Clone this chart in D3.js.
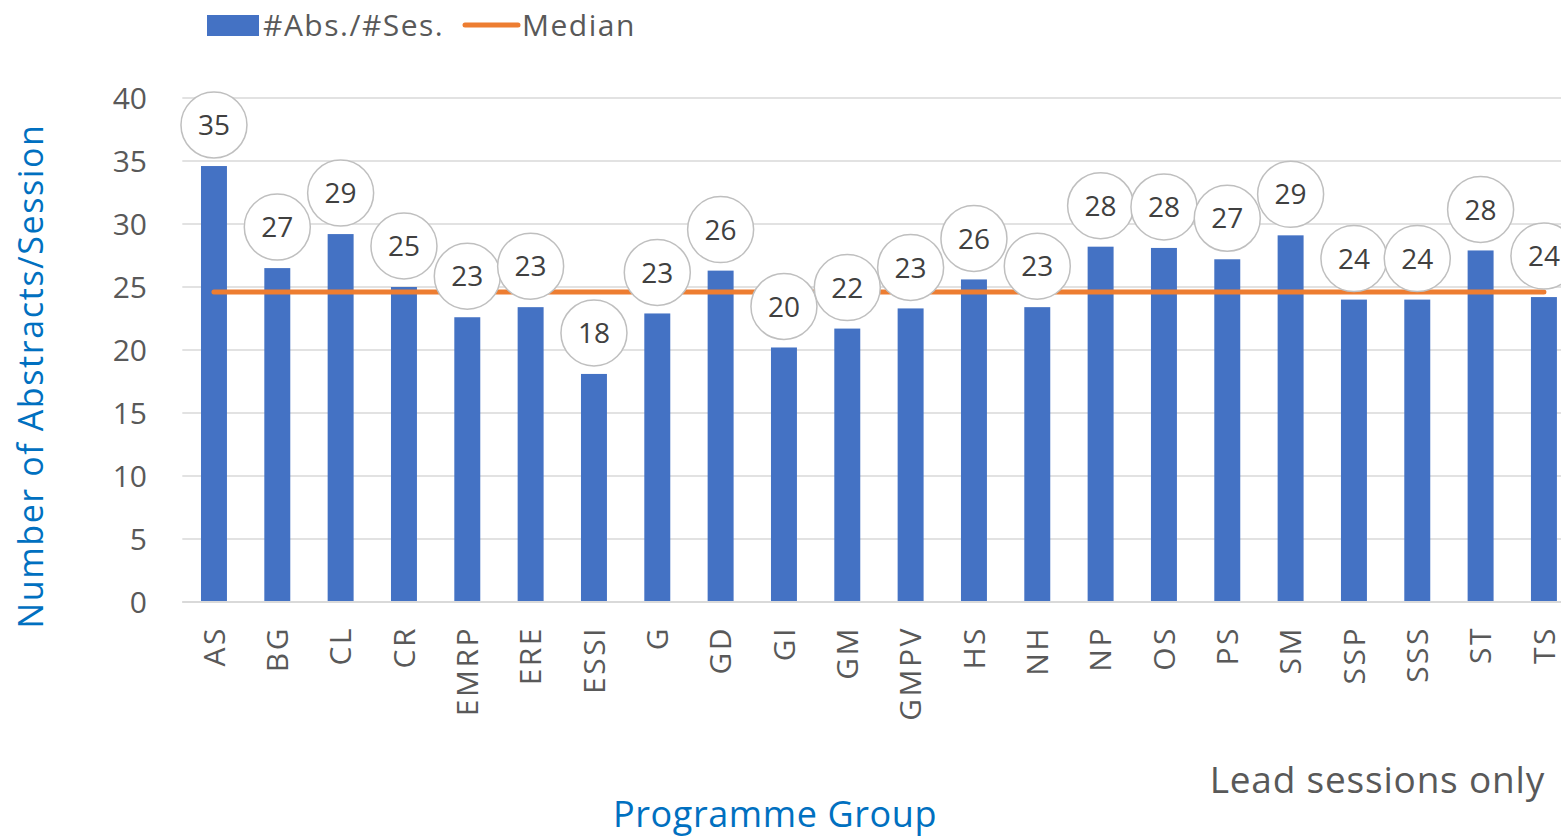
<!DOCTYPE html>
<html>
<head>
<meta charset="utf-8">
<script src="https://cdn.jsdelivr.net/npm/d3@7"></script>
<style>
  body { margin: 0; background: #fff; overflow: hidden; }
  text { font-family: "Open Sans", "Noto Sans", sans-serif; }
</style>
</head>
<body>
<svg id="chart" width="1561" height="838"></svg>
<script>
// programme groups and their abstracts per session (lead sessions only)
var groups = ["AS", "BG", "CL", "CR", "EMRP", "ERE", "ESSI", "G", "GD", "GI", "GM",
              "GMPV", "HS", "NH", "NP", "OS", "PS", "SM", "SSP", "SSS", "ST", "TS"];
var absPerSes = [34.6, 26.5, 29.2, 25.0, 22.6, 23.4, 18.1, 22.9, 26.3, 20.2, 21.7,
                 23.3, 25.6, 23.4, 28.2, 28.1, 27.2, 29.1, 24.0, 24.0, 27.9, 24.2];
var median = 24.6;
var yTicks = [0, 5, 10, 15, 20, 25, 30, 35, 40];

var svg = d3.select('#chart'),
    W = 1561, H = 838,
    plotLeft = 182.3, plotRight = 1575.6,
    plotTop = 98, plotBottom = 602;

var x = d3.scaleBand()
    .domain(groups)
    .range([plotLeft, plotRight]);
var barW = x.bandwidth() * 0.41;

var y = d3.scaleLinear()
    .domain([0, 40])
    .range([plotBottom, plotTop]);

// gridlines
svg.append('g')
    .selectAll('line')
    .data(yTicks)
    .enter().append('line')
    .attr('x1', plotLeft).attr('x2', W)
    .attr('y1', function (d) { return y(d); })
    .attr('y2', function (d) { return y(d); })
    .attr('stroke', '#d9d9d9')
    .attr('stroke-width', 1.5);

// y tick labels
svg.append('g')
    .selectAll('text')
    .data(yTicks)
    .enter().append('text')
    .attr('x', 147)
    .attr('y', function (d) { return y(d); })
    .attr('dy', '0.35em')
    .attr('text-anchor', 'end')
    .attr('font-size', 30)
    .attr('fill', '#595959')
    .text(function (d) { return d; });

// bars
svg.append('g')
    .selectAll('rect')
    .data(groups)
    .enter().append('rect')
    .attr('x', function (d) { return x(d) + (x.bandwidth() - barW) / 2; })
    .attr('y', function (d, i) { return y(absPerSes[i]); })
    .attr('width', barW)
    .attr('height', function (d, i) { return plotBottom - y(absPerSes[i]); })
    .attr('fill', '#4472C4');

// baseline
svg.append('line')
    .attr('x1', plotLeft).attr('x2', W)
    .attr('y1', plotBottom).attr('y2', plotBottom)
    .attr('stroke', '#d9d9d9')
    .attr('stroke-width', 2);

// median line
var cx = function (d) { return x(d) + x.bandwidth() / 2; };
svg.append('line')
    .attr('x1', cx(groups[0]))
    .attr('x2', cx(groups[groups.length - 1]))
    .attr('y1', y(median)).attr('y2', y(median))
    .attr('stroke', '#ED7D31')
    .attr('stroke-width', 5)
    .attr('stroke-linecap', 'round');

// data labels in circles
var lab = svg.append('g')
    .selectAll('g')
    .data(groups)
    .enter().append('g')
    .attr('transform', function (d, i) {
        return 'translate(' + cx(d) + ',' + (y(absPerSes[i]) - 41) + ')';
    });
lab.append('circle')
    .attr('r', 33)
    .attr('fill', '#fff')
    .attr('stroke', '#bfbfbf')
    .attr('stroke-width', 1.5);
lab.append('text')
    .attr('text-anchor', 'middle')
    .attr('dy', '0.36em')
    .attr('font-size', 28)
    .attr('fill', '#404040')
    .text(function (d, i) { return Math.round(absPerSes[i]); });

// x tick labels
svg.append('g')
    .selectAll('text')
    .data(groups)
    .enter().append('text')
    .attr('transform', function (d) { return 'translate(' + cx(d) + ',626) rotate(-90)'; })
    .attr('dy', '0.36em')
    .attr('text-anchor', 'end')
    .attr('font-size', 30)
    .attr('letter-spacing', 2.5)
    .attr('fill', '#595959')
    .text(function (d) { return d; });

// axis titles
svg.append('text')
    .attr('transform', 'translate(43,376) rotate(-90)')
    .attr('text-anchor', 'middle')
    .attr('font-size', 34)
    .attr('letter-spacing', 1.6)
    .attr('fill', '#0070C0')
    .text('Number of Abstracts/Session');

svg.append('text')
    .attr('x', 775).attr('y', 827)
    .attr('text-anchor', 'middle')
    .attr('font-size', 36)
    .attr('letter-spacing', 0.6)
    .attr('fill', '#0070C0')
    .text('Programme Group');

svg.append('text')
    .attr('x', 1545).attr('y', 793)
    .attr('text-anchor', 'end')
    .attr('font-size', 37)
    .attr('letter-spacing', 0.8)
    .attr('fill', '#595959')
    .text('Lead sessions only');

// legend
svg.append('rect')
    .attr('x', 207).attr('y', 15)
    .attr('width', 52).attr('height', 21)
    .attr('fill', '#4472C4');
svg.append('text')
    .attr('x', 263).attr('y', 25)
    .attr('dy', '0.36em')
    .attr('font-size', 30)
    .attr('letter-spacing', 1.5)
    .attr('fill', '#595959')
    .text('#Abs./#Ses.');
svg.append('line')
    .attr('x1', 465).attr('x2', 518)
    .attr('y1', 25).attr('y2', 25)
    .attr('stroke', '#ED7D31')
    .attr('stroke-width', 5)
    .attr('stroke-linecap', 'round');
svg.append('text')
    .attr('x', 522).attr('y', 25)
    .attr('dy', '0.36em')
    .attr('font-size', 30)
    .attr('letter-spacing', 1.5)
    .attr('fill', '#595959')
    .text('Median');
</script>
</body>
</html>
